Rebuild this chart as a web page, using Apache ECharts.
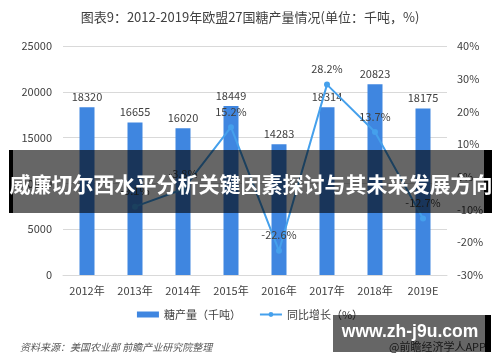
<!DOCTYPE html>
<html><head><meta charset="utf-8">
<script src="https://cdn.jsdelivr.net/npm/echarts@6/dist/echarts.min.js"></script>
<style>html,body{margin:0;padding:0;background:#fff}#c{width:500px;height:362px}</style>
</head><body><div id="c"></div>
<script>
var categories = ['2012年','2013年','2014年','2015年','2016年','2017年','2018年','2019E'];
var production = [18320, 16655, 16020, 18449, 14283, 18314, 20823, 18175];
var growth = [null, -9.1, -3.8, 15.2, -22.6, 28.2, 13.7, -12.7];
var titleText = '图表9：2012-2019年欧盟27国糖产量情况(单位：千吨，%)';
var bannerText = '威廉切尔西水平分析关键因素探讨与其未来发展方向';
var sourceText = '资料来源：美国农业部 前瞻产业研究院整理';
var font = '"Noto Sans CJK SC", "Noto Sans", sans-serif';

var chart = echarts.init(document.getElementById('c'), null, {renderer: 'canvas'});
chart.setOption({
  animation: false,
  textStyle: {fontFamily: font},
  title: {text: titleText, left: 'center', top: 6, textStyle: {fontSize: 13, fontWeight: 'normal', color: '#404040', fontFamily: font}},
  grid: {left: 63, right: 53, top: 46, bottom: 87},
  legend: {
    top: 304, left: 'center', itemGap: 18, itemWidth: 22, itemHeight: 6,
    textStyle: {fontSize: 11, color: '#404040', fontFamily: font},
    data: [{name: '糖产量（千吨）', icon: 'rect'}, {name: '同比增长（%）'}]
  },
  xAxis: {
    type: 'category', data: categories,
    axisLine: {lineStyle: {color: '#d9d9d9'}}, axisTick: {show: false},
    axisLabel: {color: '#404040', fontSize: 11, margin: 10}
  },
  yAxis: [
    {type: 'value', min: 0, max: 25000, interval: 5000,
     axisLine: {show: false}, axisTick: {show: false},
     axisLabel: {color: '#404040', fontSize: 11, margin: 11, formatter: function(v){return String(v);}},
     splitLine: {lineStyle: {color: '#d9d9d9'}}},
    {type: 'value', min: -30, max: 40, interval: 10,
     axisLine: {show: false}, axisTick: {show: false},
     axisLabel: {color: '#404040', fontSize: 11, margin: 10, formatter: '{value}%'},
     splitLine: {show: false}}
  ],
  series: [
    {name: '糖产量（千吨）', type: 'bar', data: production, barWidth: 15,
     itemStyle: {color: '#3f86e0'},
     label: {show: true, position: 'top', distance: 5, color: '#404040', fontSize: 11}},
    {name: '同比增长（%）', type: 'line', yAxisIndex: 1, data: growth,
     symbol: 'circle', symbolSize: 6, connectNulls: false,
     lineStyle: {color: '#45a0ec', width: 2}, itemStyle: {color: '#45a0ec'},
     label: {show: true, position: 'top', distance: 7, color: '#404040', fontSize: 11, formatter: function(p){return p.value + '%';}}}
  ],
  graphic: [
    {type: 'rect', z: 100, shape: {x: 9, y: 150, width: 483, height: 63}, style: {fill: 'rgba(0,0,0,0.6)'}},
    {type: 'rect', z: 101, shape: {x: 9, y: 150, width: 4, height: 63}, style: {fill: '#000'}},
    {type: 'rect', z: 101, shape: {x: 484, y: 150, width: 8, height: 63}, style: {fill: '#000'}},
    {type: 'text', z: 102, x: 251, y: 184, style: {text: bannerText, fill: '#fff', font: 'bold 21px ' + font, textAlign: 'center', textVerticalAlign: 'middle'}},
    {type: 'text', z: 100, x: 20, y: 347, style: {text: sourceText, fill: '#595959', font: 'italic 10px ' + font, textAlign: 'left', textVerticalAlign: 'middle'}},
    {type: 'text', z: 100, x: 486, y: 347, style: {text: '@前瞻经济学人APP', fill: '#404040', font: '11px ' + font, textAlign: 'right', textVerticalAlign: 'middle'}},
    {type: 'rect', z: 101, shape: {x: 333, y: 315, width: 158, height: 37}, style: {fill: 'rgba(0,0,0,0.6)'}},
    {type: 'rect', z: 102, shape: {x: 485, y: 315, width: 6, height: 37}, style: {fill: '#000'}},
    {type: 'text', z: 103, x: 410, y: 332, style: {text: 'www.zh-j9u.com', fill: '#fff', font: 'bold 17.5px "Liberation Sans", Arial, sans-serif', textAlign: 'center', textVerticalAlign: 'middle'}}
  ]
});
</script></body></html>
